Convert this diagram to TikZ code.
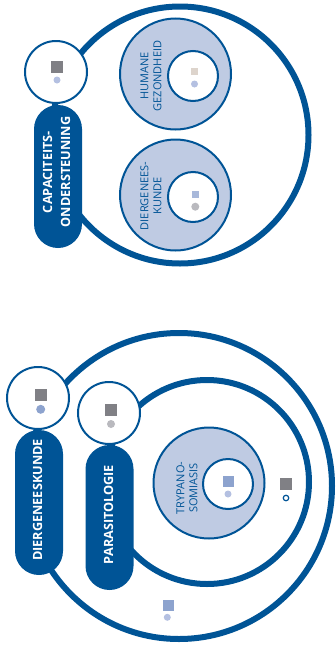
\documentclass[tikz,border=0pt]{standalone}
\usepackage{fontspec}
\setmainfont{Open Sans}
\definecolor{dkblue}{RGB}{0,84,150}
\definecolor{ltfill}{RGB}{191,203,227}
\definecolor{sqgray}{RGB}{128,128,133}
\definecolor{sqbeige}{RGB}{221,212,204}
\definecolor{sqblue}{RGB}{141,163,206}
\definecolor{sqblueb}{RGB}{168,184,218}
\definecolor{dotlt}{RGB}{180,192,225}
\definecolor{dotgray}{RGB}{185,185,190}
\begin{document}
\begin{tikzpicture}[x=1pt,y=-1pt,
  ring/.style={circle, draw=dkblue, line width=6pt, minimum size=#1, inner sep=0pt},
  ltcirc/.style={circle, draw=dkblue, fill=ltfill, line width=2pt, minimum size=#1, inner sep=0pt},
  whcirc/.style={circle, draw=dkblue, fill=white, line width=2pt, minimum size=#1, inner sep=0pt},
  pill/.style={rectangle, rounded corners=24pt, fill=dkblue, minimum width=48pt, minimum height=#1, inner sep=0pt},
  sq/.style={rectangle, inner sep=0pt, minimum size=#1},
  dotc/.style={circle, inner sep=0pt, minimum size=#1},
  lbltext/.style={rotate=90, align=center, text=dkblue, font=\fontsize{11}{13}\selectfont, inner sep=0pt},
  pilltext/.style={rotate=90, align=center, text=white, font=\bfseries\fontsize{12.7}{18}\selectfont, inner sep=0pt}]
\useasboundingbox (0,0) rectangle (336,648);

% ---------- top group ----------
\node[ring=257pt] (topring) at (180,135) {};
\node[ltcirc=111pt] (hum) at (175.5,74) {};
\node[whcirc=50pt] (humin) at (193,76) {};
\node[ltcirc=111pt] (dier) at (175.5,195) {};
\node[whcirc=50pt] (dierin) at (193,197) {};
\node[pill=143pt] (cappill) at (58,176.5) {};
\node[whcirc=62pt] (capc) at (56,72) {};

\node[sq=12pt, fill=sqgray] (capsq) at (57,67) {};
\node[dotc=7pt, fill=dotlt] (capdot) at (57,80) {};
\node[sq=7pt, fill=sqbeige] (humsq) at (194,71.7) {};
\node[dotc=7pt, fill=dotlt] (humdot) at (194.5,84) {};
\node[sq=7pt, fill=sqblueb] (diersq) at (195.5,194.3) {};
\node[dotc=8pt, fill=dotgray] (dierdot) at (195.3,206.7) {};

\node[lbltext] (humtxt) at (151,76) {HUMANE\\GEZONDHEID};
\node[lbltext] (diertxt) at (151,196) {DIERGENEES-\\KUNDE};
\node[pilltext] (captxt) at (56.5,172) {CAPACITEITS-\\ONDERSTEUNING};

% ---------- bottom group ----------
\node[ring=306pt] (outring) at (179,486) {};
\node[ring=204pt] (midring) at (207,482) {};
\node[ltcirc=111pt] (tryp) at (209,483) {};
\node[whcirc=50pt] (trypin) at (228,484) {};
\node[pill=145pt] (dkpill) at (39,502.5) {};
\node[whcirc=62pt] (dkc) at (38,398) {};
\node[pill=145pt] (parpill) at (109.5,517.5) {};
\node[whcirc=62pt] (parc) at (109,413) {};

\node[sq=12pt, fill=sqgray] (dksq) at (41,395) {};
\node[dotc=9pt, fill=sqblue] (dkdot) at (40.7,409.3) {};
\node[sq=12pt, fill=sqgray] (parsq) at (111,410) {};
\node[dotc=8pt, fill=dotgray] (pardot) at (111,424) {};
\node[sq=11pt, fill=sqblue] (trypsq) at (228.3,481) {};
\node[dotc=7pt, fill=dotlt] (trypdot) at (228,494) {};
\node[sq=12pt, fill=sqgray] (midsq) at (286,484) {};
\node[dotc=5.5pt, draw=dkblue, line width=1.2pt, fill=white] (midring0) at (286,498) {};
\node[sq=11pt, fill=sqblue] (outsq) at (168,605.5) {};
\node[dotc=7pt, fill=dotlt] (outdot) at (167.3,617.3) {};

\node[lbltext] (tryptxt) at (187,488) {TRYPANO-\\SOMIASIS};
\node[pilltext] (dktxt) at (37.5,500) {DIERGENEESKUNDE};
\node[pilltext] (partxt) at (108.5,514.5) {PARASITOLOGIE};
\end{tikzpicture}
\end{document}
